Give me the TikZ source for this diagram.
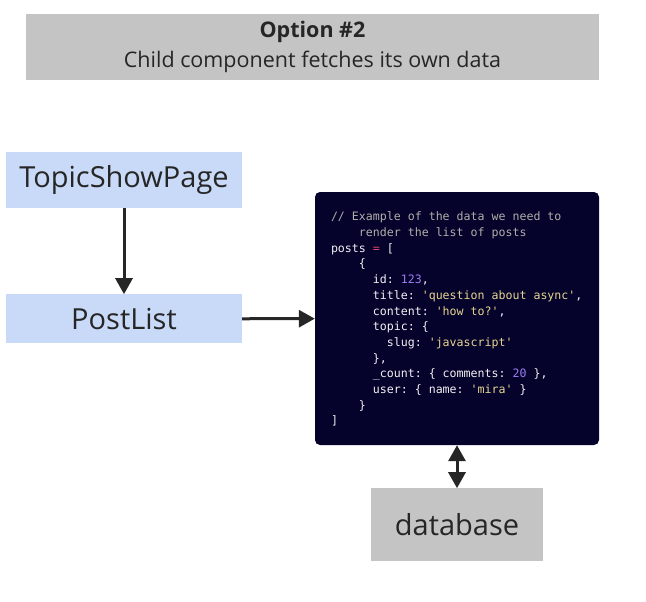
\documentclass[tikz,border=0pt]{standalone}
\usepackage{fontspec}
\setmainfont{Open Sans}
\setmonofont{DejaVu Sans Mono}
\usetikzlibrary{arrows.meta,positioning}
\definecolor{ink}{HTML}{262626}
\definecolor{bluefill}{HTML}{C9DAF8}
\definecolor{grayfill}{HTML}{C4C4C4}
\definecolor{codebg}{HTML}{05022C}
\definecolor{codetext}{HTML}{F2F2F2}
\definecolor{comment}{HTML}{B0B0A8}
\definecolor{string}{HTML}{E6D690}
\definecolor{number}{HTML}{9D7CF2}
\definecolor{operator}{HTML}{E0456B}
\newcommand\str[1]{\textcolor{string}{#1}}
\newcommand\num[1]{\textcolor{number}{#1}}
\newcommand\pad[1]{\hspace*{#1\fontcharwd\font`x}}
\tikzset{
  box/.style={inner sep=0pt, align=center, text=ink, font=\fontsize{29}{32}\selectfont},
  bluebox/.style={box, fill=bluefill, minimum width=236pt},
  graybox/.style={box, fill=grayfill},
  titlebox/.style={graybox, minimum width=573pt, minimum height=66pt, font=\fontsize{21.5}{30}\selectfont},
  codebox/.style={fill=codebg, rounded corners=5pt, minimum width=284pt, minimum height=253pt, inner sep=0pt},
  codetext/.style={inner sep=0pt, align=left, text=codetext, font=\ttfamily\fontsize{11.6}{15.7}\selectfont},
  arrow/.style={-{Triangle[length=16pt,width=17pt]}, line width=3pt, draw=ink},
  twoarrow/.style={{Triangle[length=16pt,width=17pt]}-{Triangle[length=16pt,width=17pt]}, line width=3pt, draw=ink},
}
\begin{document}
\begin{tikzpicture}[x=1pt,y=-1pt]
\useasboundingbox (0,0) rectangle (646,602);
\node[titlebox] (title) at (312.5,47) {\textbf{Option \#2}\\Child component fetches its own data};
\node[bluebox, minimum height=56pt] (topic) at (124,180) {TopicShowPage};
\node[bluebox, minimum height=49pt, below=86pt of topic] (postlist) {PostList};
\node[codebox] (code) at (457,318.5) {};
\node[codetext, below right=20pt and 16pt of code.north west] (listing) {%
\textcolor{comment}{// Example of the data we need to}\\
\textcolor{comment}{\pad{4}render the list of posts}\\
posts \textcolor{operator}{=} [\\
\pad{4}\{\\
\pad{6}id: \num{123},\\
\pad{6}title: \str{'question about async'},\\
\pad{6}content: \str{'how to?'},\\
\pad{6}topic: \{\\
\pad{8}slug: \str{'javascript'}\\
\pad{6}\},\\
\pad{6}\_count: \{ comments: \num{20} \},\\
\pad{6}user: \{ name: \str{'mira'} \}\\
\pad{4}\}\\
]};
\node[graybox, minimum width=172pt, minimum height=73pt, below=43pt of code] (db) {database};
\draw[arrow] (topic) -- (postlist);
\draw[arrow] (postlist) -- (code);
\draw[twoarrow] (code) -- (db);
\end{tikzpicture}
\end{document}
